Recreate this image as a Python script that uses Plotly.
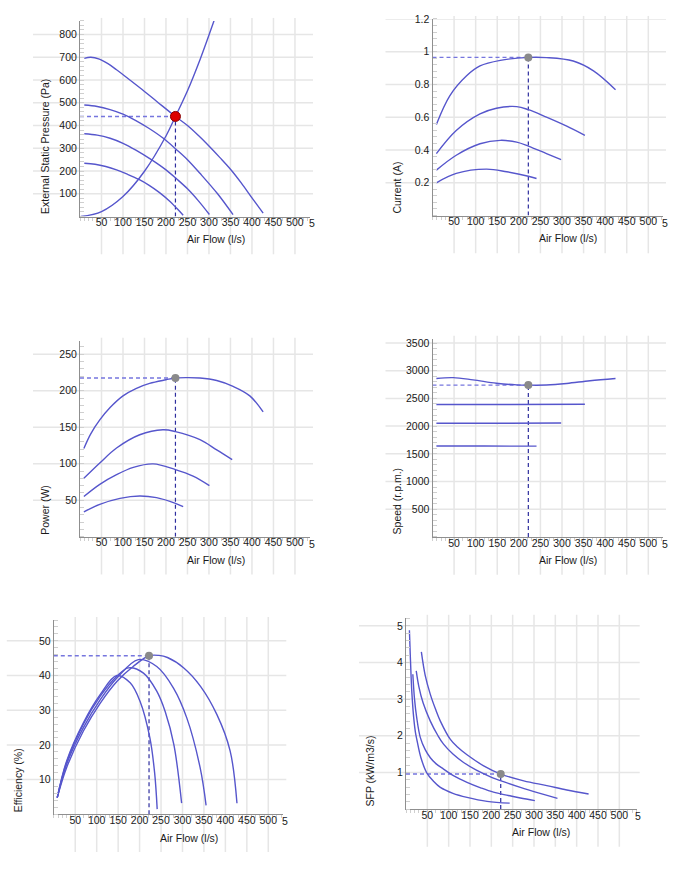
import plotly.graph_objects as go

W, H = 681, 872
FONT = "Liberation Sans, Arial, Helvetica, sans-serif"
CURVE = "#5656cc"
HDASH = "#7676de"
VDASH = "#2e2e9e"
GRID = "#e6e6e6"
AXIS = "#8f8f8f"
MINOR = "#cfcfcf"
TEXT = "#1a1a1a"
FS = 10.5

# ---------------- data ----------------
flow_ticks = [50, 100, 150, 200, 250, 300, 350, 400, 450, 500]
flow_grid = [50, 100, 150, 200, 250, 300, 350, 400, 450, 500, 550]
flow_title = "Air Flow (l/s)"
op_flow = 222

# Panel 1: external static pressure (Pa)
pres_ticks = [100, 200, 300, 400, 500, 600, 700, 800]
pres_x1 = [10, 25, 45, 65, 85, 104, 140, 178, 222, 250, 275, 300, 325, 350, 375, 400, 426]
pres_y1 = [695, 700, 692, 672, 645, 618, 565, 507, 440, 400, 357, 310, 260, 208, 148, 82, 15]
pres_x2 = [10, 40, 70, 100, 130, 160, 193, 224, 250, 279, 320, 356]
pres_y2 = [490, 484, 470, 450, 422, 388, 345, 295, 250, 190, 100, 8]
pres_x3 = [10, 40, 70, 100, 130, 166, 200, 225, 250, 275, 301]
pres_y3 = [364, 358, 344, 322, 292, 250, 205, 165, 122, 70, 9]
pres_x4 = [10, 35, 60, 85, 110, 137, 160, 185, 210, 225, 240]
pres_y4 = [234, 230, 220, 205, 186, 163, 138, 105, 65, 36, 6]
sys_x = [2, 50, 100, 150, 200, 222, 250, 280, 312]
sys_y = [0, 22, 88, 199, 354, 440, 553, 694, 862]
op_pres = 440

# Panel 2: current (A)
curr_ticks = [0.2, 0.4, 0.6, 0.8, 1, 1.2]
curr_labels = ["0.2", "0.4", "0.6", "0.8", "1", "1.2"]
curr_x1 = [9, 40, 79, 110, 157, 222, 264, 326, 373, 424]
curr_y1 = [0.556, 0.731, 0.853, 0.913, 0.947, 0.965, 0.964, 0.943, 0.883, 0.768]
curr_x2 = [9, 55, 110, 148, 195, 222, 264, 311, 353]
curr_y2 = [0.378, 0.519, 0.62, 0.655, 0.665, 0.646, 0.6, 0.545, 0.489]
curr_x3 = [9, 55, 110, 157, 195, 222, 264, 298]
curr_y3 = [0.277, 0.368, 0.438, 0.459, 0.448, 0.424, 0.378, 0.341]
curr_x4 = [9, 55, 125, 172, 222, 241]
curr_y4 = [0.2, 0.257, 0.283, 0.267, 0.24, 0.226]
op_curr = 0.965

# Panel 3: power (W)
pow_ticks = [50, 100, 150, 200, 250]
pow_x1 = [9, 25, 46, 70, 100, 130, 162, 200, 222, 250, 279, 318, 356, 395, 426]
pow_y1 = [121, 141, 160, 177, 193, 203, 210, 215, 217.5, 218, 217.5, 214, 206, 193, 171]
pow_x2 = [9, 46, 85, 139, 193, 222, 279, 318, 354]
pow_y2 = [80, 101, 121.5, 139.7, 146.5, 144, 133, 119, 105.7]
pow_x3 = [9, 46, 85, 124, 170, 222, 263, 301]
pow_y3 = [55, 71.7, 85, 95, 99.8, 92, 83, 70]
pow_x4 = [9, 46, 93, 139, 178, 222, 240]
pow_y4 = [34, 44.4, 52.6, 55.8, 53.5, 45.8, 41.3]
op_pow = 217.5

# Panel 4: speed (r.p.m.)
spd_ticks = [500, 1000, 1500, 2000, 2500, 3000, 3500]
spd_x1 = [9, 48, 94, 148, 195, 222, 264, 311, 365, 424]
spd_y1 = [2860, 2875, 2835, 2775, 2745, 2740, 2742, 2770, 2820, 2860]
spd_x2 = [9, 180, 353]
spd_y2 = [2390, 2390, 2395]
spd_x3 = [9, 150, 298]
spd_y3 = [2052, 2052, 2055]
spd_x4 = [9, 120, 241]
spd_y4 = [1640, 1640, 1638]
op_spd = 2740

# Panel 5: efficiency (%)
eff_ticks = [10, 20, 30, 40, 50]
eff_x1 = [8, 30, 69, 108, 147, 185, 222, 245, 265, 303, 342, 380, 411, 427]
eff_y1 = [4.8, 13.5, 24, 32, 38.3, 42.6, 45.7, 45.8, 45.2, 42.2, 36.9, 28.8, 18.3, 3.2]
eff_x2 = [8, 30, 69, 108, 147, 197, 240, 279, 310, 341, 355]
eff_y2 = [4.8, 14.5, 25, 33, 39.3, 44.6, 42.6, 36.4, 27.8, 13.5, 2.6]
eff_x3 = [8, 30, 69, 108, 147, 174, 209, 240, 260, 280, 298]
eff_y3 = [4.8, 15, 26, 34, 39.8, 42.2, 40.7, 35.5, 29.5, 20, 3.2]
eff_x4 = [8, 30, 69, 108, 147, 178, 201, 224, 235, 241]
eff_y4 = [4.8, 15.4, 26.4, 34.5, 40, 37.9, 32.6, 22, 12, 1.5]
op_eff = 45.7

# Panel 6: SFP (kW/m3/s)
sfp_ticks = [1, 2, 3, 4, 5]
sfp_x1 = [36, 45, 57, 70, 80.5, 104, 120, 143, 182, 222, 276, 330, 377, 428]
sfp_y1 = [4.29, 3.65, 3.13, 2.7, 2.4, 1.9, 1.7, 1.48, 1.18, 0.955, 0.77, 0.64, 0.52, 0.41]
sfp_x2 = [24, 30, 40, 57, 75, 88, 110, 135, 165, 198, 230, 268, 310, 355]
sfp_y2 = [3.77, 3.35, 2.9, 2.4, 2.0, 1.77, 1.5, 1.27, 1.06, 0.88, 0.74, 0.59, 0.44, 0.29]
sfp_x3 = [16, 20, 25, 33.6, 45, 57, 70, 88, 110, 143, 175, 205, 240, 268, 302]
sfp_y3 = [3.68, 3.0, 2.5, 1.95, 1.62, 1.4, 1.24, 1.09, 0.92, 0.73, 0.58, 0.46, 0.37, 0.3, 0.23]
sfp_x4 = [8, 10, 12, 14, 18, 22, 26, 35, 49, 65, 80.5, 110, 143, 190, 243]
sfp_y4 = [4.88, 4.2, 3.6, 3.13, 2.5, 2.1, 1.86, 1.4, 0.98, 0.75, 0.59, 0.43, 0.32, 0.21, 0.16]
op_sfp = 0.955

# ---------------- layout of panels (pixel boxes) ----------------
panels = [
    dict(box=(80, 310, 15, 212), xmax=535, ymax=860, yt=pres_ticks, ylab=None,
         ytitle="External Static Pressure (Pa)", ytx=45, xtt=(216, 235), ydt=20,
         curves=[(pres_x1, pres_y1), (pres_x2, pres_y2), (pres_x3, pres_y3), (pres_x4, pres_y4), (sys_x, sys_y)],
         op=op_pres, red=True),
    dict(box=(432.5, 663, 13, 211), xmax=534, ymax=1.2, yt=curr_ticks, ylab=curr_labels,
         ytitle="Current (A)", ytx=397, xtt=(568, 234), ydt=0.04,
         curves=[(curr_x1, curr_y1), (curr_x2, curr_y2), (curr_x3, curr_y3), (curr_x4, curr_y4)],
         op=op_curr, red=False),
    dict(box=(80, 310, 337, 534.4), xmax=535, ymax=268.6, yt=pow_ticks, ylab=None,
         ytitle="Power (W)", ytx=45, xtt=(216, 558), ydt=10,
         curves=[(pow_x1, pow_y1), (pow_x2, pow_y2), (pow_x3, pow_y3), (pow_x4, pow_y4)],
         op=op_pow, red=False),
    dict(box=(432.5, 663, 335, 534.6), xmax=534, ymax=3578, yt=spd_ticks, ylab=None,
         ytitle="Speed (r.p.m.)", ytx=397, xtt=(568, 558), ydt=100,
         curves=[(spd_x1, spd_y1), (spd_x2, spd_y2), (spd_x3, spd_y3), (spd_x4, spd_y4)],
         op=op_spd, red=False),
    dict(box=(53.8, 283.3, 618.3, 813.9), xmax=535, ymax=56, yt=eff_ticks, ylab=None,
         ytitle="Efficiency (%)", ytx=18, xtt=(189, 838), ydt=2,
         curves=[(eff_x1, eff_y1), (eff_x2, eff_y2), (eff_x3, eff_y3), (eff_x4, eff_y4)],
         op=op_eff, red=False),
    dict(box=(406, 636.7, 616, 808.6), xmax=540.7, ymax=5.22, yt=sfp_ticks, ylab=None,
         ytitle="SFP (kW/m3/s)", ytx=370, xtt=(541, 832), ydt=0.2,
         curves=[(sfp_x1, sfp_y1), (sfp_x2, sfp_y2), (sfp_x3, sfp_y3), (sfp_x4, sfp_y4)],
         op=op_sfp, red=False),
]


def fx(p):
    return p / W


def fy(p):
    return 1 - p / H


fig = go.Figure()
shapes = []
annotations = []
layout_axes = {}

for i, P in enumerate(panels, start=1):
    sfx = "" if i == 1 else str(i)
    xa, ya = "x" + sfx, "y" + sfx
    l, r, t, b = P["box"]
    wpx, hpx = r - l, b - t
    tickfont = dict(family=FONT, size=FS, color=TEXT)
    layout_axes["xaxis" + sfx] = dict(
        domain=[fx(l), fx(r)], range=[0, P["xmax"]], anchor=ya,
        showline=True, linecolor=AXIS, linewidth=1, showgrid=False, zeroline=False,
        tickmode="array", tickvals=flow_ticks, ticks="", tickfont=tickfont,
        ticklabelstandoff=-4,
        minor=dict(tickmode="linear", tick0=0, dtick=10, ticks="outside", ticklen=3,
                   tickcolor=MINOR, showgrid=False),
        fixedrange=True,
    )
    yax = dict(
        domain=[fy(b), fy(t)], range=[0, P["ymax"]], anchor=xa,
        showline=True, linecolor=AXIS, linewidth=1, showgrid=False, zeroline=False,
        tickmode="array", tickvals=P["yt"], ticks="", tickfont=tickfont,
        minor=dict(tickmode="linear", tick0=0, dtick=P["ydt"], ticks="inside", ticklen=4,
                   tickcolor=MINOR, showgrid=False),
        fixedrange=True,
    )
    if P["ylab"]:
        yax["ticktext"] = P["ylab"]
    layout_axes["yaxis" + sfx] = yax

    # gridlines (extend beyond plot area like the original)
    for v in flow_grid:
        shapes.append(dict(type="line", xref=xa, yref=ya + " domain", x0=v, x1=v,
                           y0=-38 / hpx, y1=1 + 3 / hpx, layer="below",
                           line=dict(color=GRID, width=1.5)))
    for v in P["yt"]:
        shapes.append(dict(type="line", xref=xa + " domain", yref=ya, y0=v, y1=v,
                           x0=-47 / wpx, x1=1 + 3 / wpx, layer="below",
                           line=dict(color=GRID, width=1.5)))

    # operating point guides
    fig.add_trace(go.Scatter(x=[0, op_flow], y=[P["op"], P["op"]], mode="lines", xaxis=xa, yaxis=ya,
                             line=dict(color=HDASH, width=1.4, dash="4px,3px"),
                             showlegend=False, hoverinfo="skip"))
    fig.add_trace(go.Scatter(x=[op_flow, op_flow], y=[0, P["op"]], mode="lines", xaxis=xa, yaxis=ya,
                             line=dict(color=VDASH, width=1.2, dash="4px,3px"),
                             showlegend=False, hoverinfo="skip"))
    # curves
    for cx, cy in P["curves"]:
        fig.add_trace(go.Scatter(x=cx, y=cy, mode="lines", xaxis=xa, yaxis=ya,
                                 line=dict(color=CURVE, width=1.4, shape="spline", smoothing=1.0),
                                 showlegend=False, hoverinfo="skip"))
    if P["red"]:
        mk = dict(color="#dd0000", size=10, line=dict(color="#880000", width=1))
    else:
        mk = dict(color="#8a8a8a", size=8, line=dict(color="#8a8a8a", width=0))
    fig.add_trace(go.Scatter(x=[op_flow], y=[P["op"]], mode="markers", xaxis=xa, yaxis=ya,
                             marker=mk, showlegend=False, hoverinfo="skip"))

    # titles
    annotations.append(dict(text=flow_title, xref="paper", yref="paper",
                            x=fx(P["xtt"][0]), y=fy(P["xtt"][1]), xanchor="center", yanchor="middle",
                            showarrow=False, font=dict(family=FONT, size=FS, color=TEXT)))
    annotations.append(dict(text=P["ytitle"], xref="paper", yref="paper", textangle=-90,
                            x=fx(P["ytx"]), y=fy(b), xanchor="center", yanchor="bottom",
                            showarrow=False, font=dict(family=FONT, size=FS, color=TEXT)))
    # clipped "550" tick label at the end of the axis
    annotations.append(dict(text="5", xref="paper", yref="paper", x=fx(r + 1.5), y=fy(b + 7),
                            xanchor="center", yanchor="middle", showarrow=False,
                            font=dict(family=FONT, size=FS, color=TEXT)))

fig.update_layout(**layout_axes)
fig.update_layout(
    width=W, height=H, autosize=False,
    margin=dict(l=0, r=0, t=0, b=0),
    paper_bgcolor="white", plot_bgcolor="rgba(0,0,0,0)",
    shapes=shapes, annotations=annotations,
    showlegend=False,
    font=dict(family=FONT, size=FS, color=TEXT),
)

fig.write_html("out.html")
